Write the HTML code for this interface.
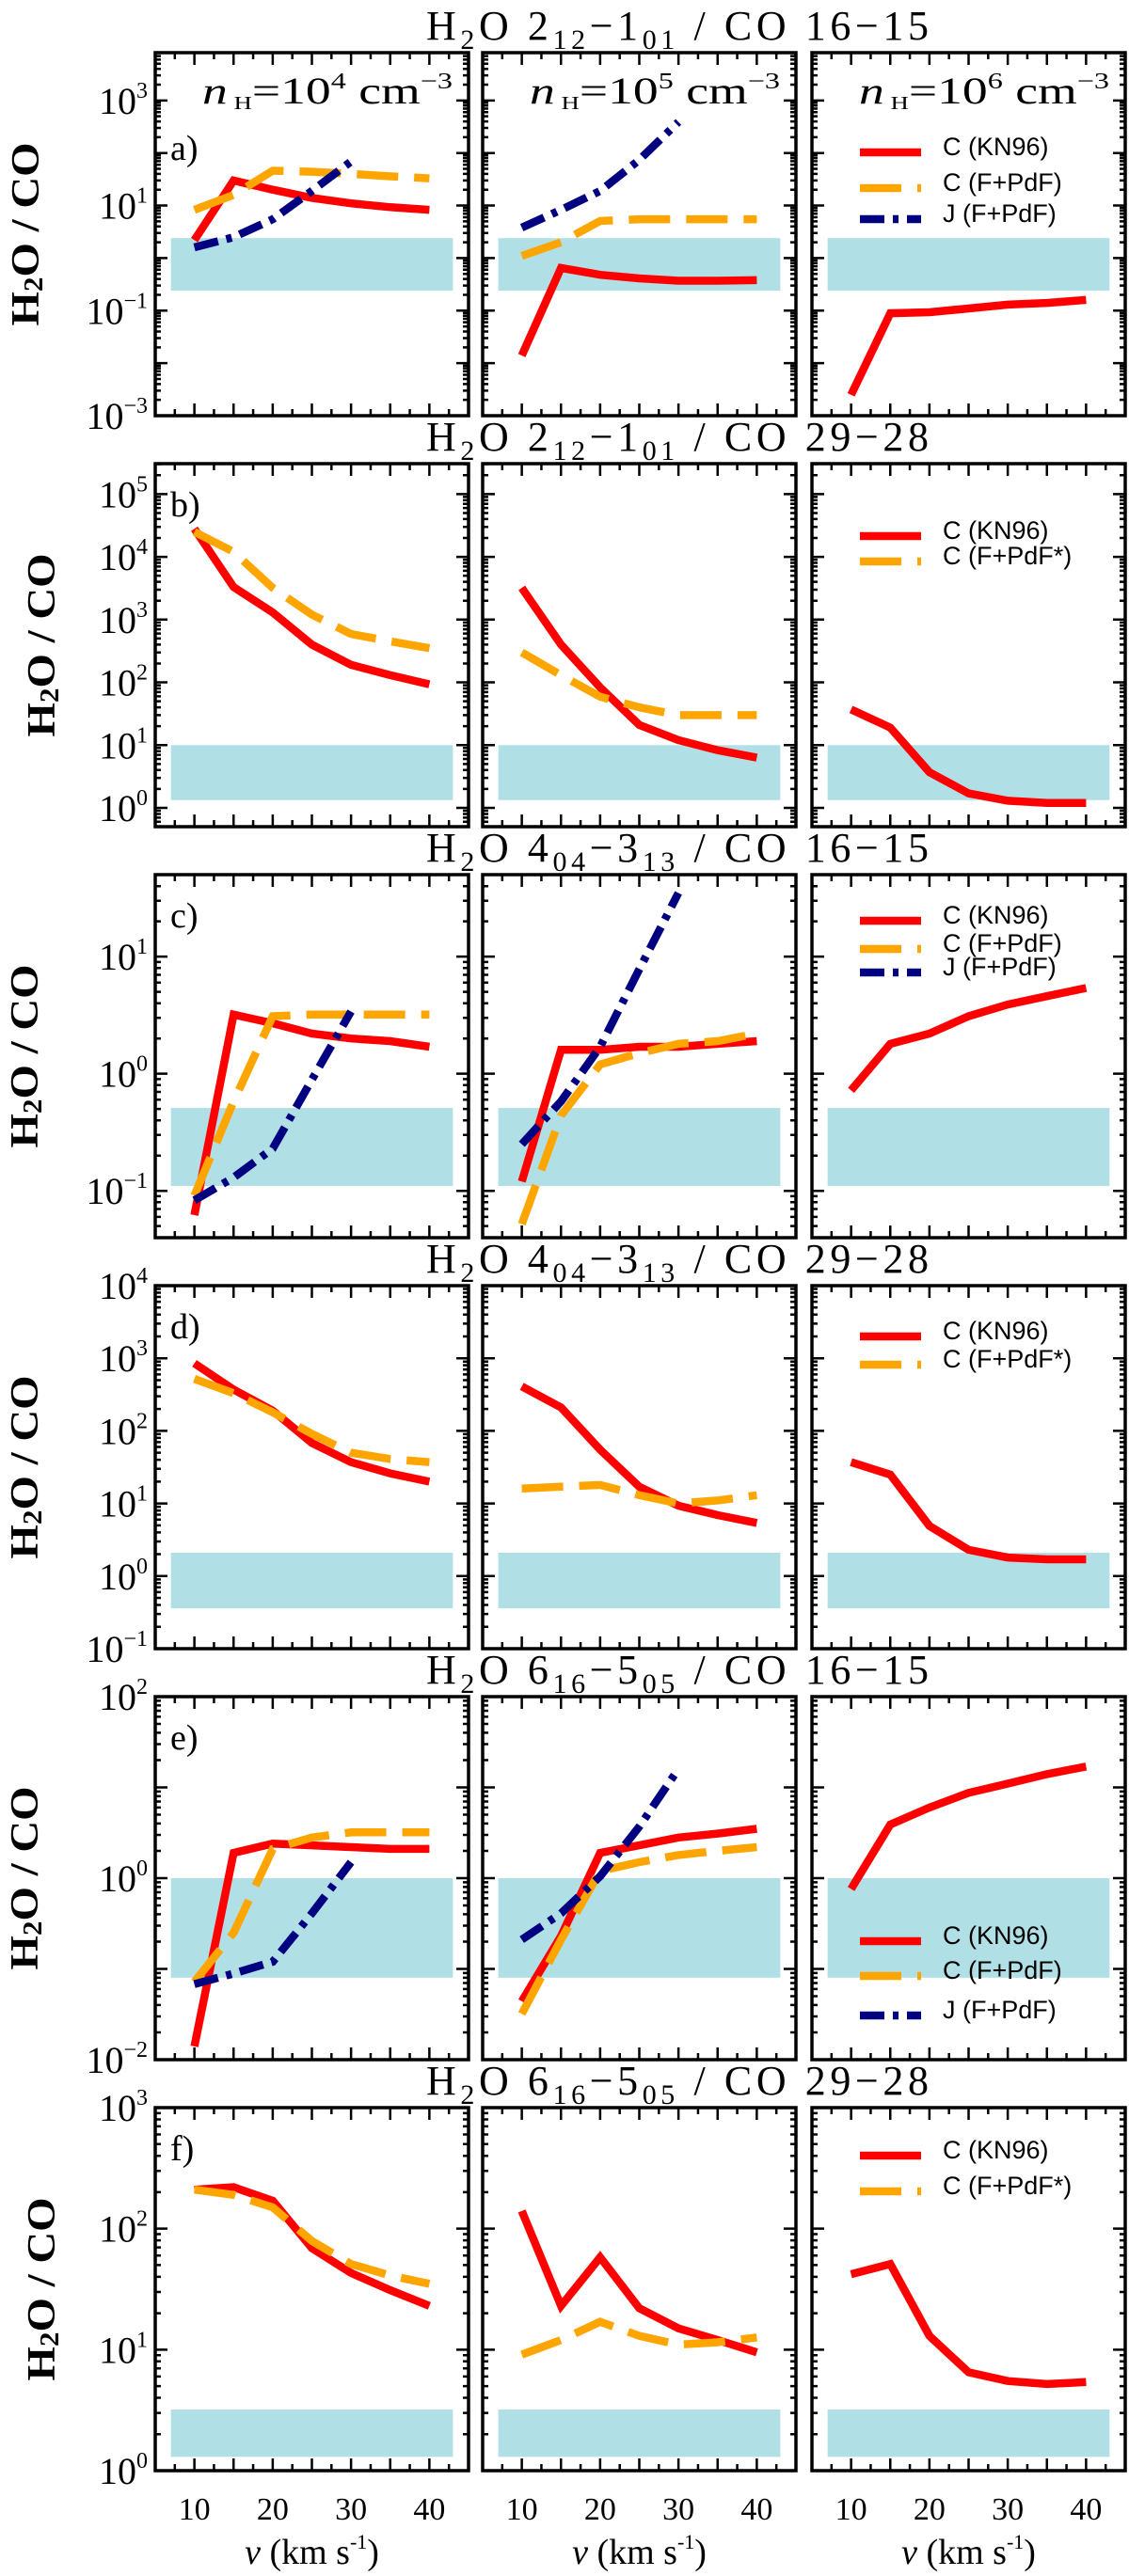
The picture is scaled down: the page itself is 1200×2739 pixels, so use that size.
<!DOCTYPE html>
<html><head><meta charset="utf-8"><style>
html,body{margin:0;padding:0;background:#fff;}
svg{display:block;}
</style></head><body>
<svg id="fig" xmlns="http://www.w3.org/2000/svg" width="1200" height="2739" viewBox="0 0 1200 2739"></svg>
<script>
// ---------- data ----------
const vel = [10, 15, 20, 25, 30, 35, 40];
const velJ = [10, 15, 20, 25, 30];
const xTickLabels = ["10", "20", "30", "40"];
const xTickValues = [10, 20, 30, 40];
const panelLetters = ["a)", "b)", "c)", "d)", "e)", "f)"];
const densityLabels = ["4", "5", "6"];
// row a : 2_12-1_01 / CO 16-15
const aRed1 = [2.2, 30, 20, 14, 11, 9.3, 8.3];
const aOrange1 = [8.3, 16, 46, 44, 40, 36, 33];
const aBlue1 = [1.6, 2.5, 5.5, 19, 69];
const aRed2 = [0.014, 0.65, 0.48, 0.41, 0.37, 0.37, 0.38];
const aOrange2 = [1.1, 2.0, 5.1, 5.5, 5.5, 5.5, 5.5];
const aBlue2 = [3.8, 8.3, 19, 74, 390];
const aRed3 = [0.0025, 0.089, 0.093, 0.11, 0.13, 0.14, 0.16];
const aBand = [0.24, 2.4];
// row b : 2_12-1_01 / CO 29-28
const bRed1 = [28000, 3300, 1300, 400, 190, 130, 93];
const bOrange1 = [25000, 12000, 3200, 1200, 590, 450, 350];
const bRed2 = [3200, 400, 83, 21, 12, 8.3, 6.3];
const bOrange2 = [300, 130, 59, 40, 30, 30, 30];
const bRed3 = [37, 19, 3.7, 1.7, 1.3, 1.2, 1.2];
const bBand = [1.33, 10];
// row c : 4_04-3_13 / CO 16-15
const cRed1 = [0.062, 3.2, 2.7, 2.2, 2.0, 1.9, 1.7];
const cOrange1 = [0.091, 0.58, 3.1, 3.2, 3.2, 3.2, 3.2];
const cBlue1 = [0.083, 0.13, 0.23, 0.89, 3.4];
const cRed2 = [0.12, 1.6, 1.6, 1.7, 1.7, 1.8, 1.9];
const cOrange2 = [0.052, 0.44, 1.2, 1.5, 1.8, 1.9, 2.2];
const cBlue2 = [0.25, 0.58, 1.7, 7.8, 35];
const cRed3 = [0.72, 1.8, 2.2, 3.1, 3.9, 4.6, 5.4];
const cBand = [0.11, 0.51];
// row d : 4_04-3_13 / CO 29-28
const dRed1 = [850, 370, 190, 68, 37, 26, 20];
const dOrange1 = [520, 330, 180, 91, 50, 41, 37];
const dRed2 = [410, 210, 55, 17, 9.3, 6.9, 5.4];
const dOrange2 = [16, 17, 18, 13, 10, 11, 13];
const dRed3 = [37, 25, 4.9, 2.3, 1.8, 1.7, 1.7];
const dBand = [0.36, 2.1];
// row e : 6_16-5_05 / CO 16-15
const eRed1 = [0.014, 1.9, 2.4, 2.3, 2.2, 2.1, 2.1];
const eOrange1 = [0.072, 0.25, 2.1, 2.8, 3.2, 3.2, 3.2];
const eBlue1 = [0.068, 0.089, 0.12, 0.41, 1.5];
const eRed2 = [0.044, 0.23, 1.9, 2.3, 2.8, 3.1, 3.5];
const eOrange2 = [0.032, 0.21, 1.2, 1.5, 1.8, 2.0, 2.2];
const eBlue2 = [0.21, 0.41, 1.05, 3.7, 16];
const eRed3 = [0.76, 3.9, 6.0, 8.7, 11, 14, 17];
const eBand = [0.08, 1.0];
// row f : 6_16-5_05 / CO 29-28
const fRed1 = [210, 220, 170, 69, 43, 31, 23];
const fOrange1 = [210, 190, 150, 79, 51, 41, 35];
const fRed2 = [140, 23, 58, 22, 15, 12, 9.5];
const fOrange2 = [9.1, 12, 17, 13, 11, 11.5, 12.6];
const fRed3 = [42, 51, 13, 6.5, 5.5, 5.2, 5.4];
const fBand = [1.3, 3.2];
// y ranges (log10) and labelled decades
const yLogMax = [3.91, 5.485, 1.70, 4, 2, 3];
const yLogMin = [-3, -0.3, -1.40, -1, -2, 0];
const yLabelled = [[3, 1, -1, -3], [5, 4, 3, 2, 1, 0], [1, 0, -1], [4, 3, 2, 1, 0, -1], [2, 0, -2], [3, 2, 1, 0]];
const transitions = [["2","12","1","01","16-15"],["2","12","1","01","29-28"],["4","04","3","13","16-15"],["4","04","3","13","29-28"],["6","16","5","05","16-15"],["6","16","5","05","29-28"]];

// ---------- layout ----------
const NS = "http://www.w3.org/2000/svg";
const svg = document.getElementById("fig");
const colLeft = [165, 513, 863];
const colW = 333;
const rowTop0 = 56, rowPitch = 437, panelH = 386;
const COL = {red: "#ff0000", orange: "#ffa500", blue: "#000080"};
const DASH = {red: "", orange: "44 17", blue: "26 9 6 9"};
const legendOffsets = [[106, 144, 177], [77, 104], [49, 79, 104], [54, 84], [260, 297, 339], [51, 89]];
const yTitleX = [28, 45, 27, 27, 27, 45];

function el(tag, attrs, parent) {
  const e = document.createElementNS(NS, tag);
  for (const k in attrs) e.setAttribute(k, attrs[k]);
  (parent || svg).appendChild(e);
  return e;
}
function rowTop(r) { return rowTop0 + r * rowPitch; }
function xS(c, v) { return colLeft[c] + (v - 5) / 40 * colW; }
function yS(r, val) { return rowTop(r) + (yLogMax[r] - Math.log10(val)) / (yLogMax[r] - yLogMin[r]) * panelH; }
function yLog(r, lg) { return rowTop(r) + (yLogMax[r] - lg) / (yLogMax[r] - yLogMin[r]) * panelH; }

const rowSeries = [
  [[["red", aRed1, vel], ["orange", aOrange1, vel], ["blue", aBlue1, velJ]], [["red", aRed2, vel], ["orange", aOrange2, vel], ["blue", aBlue2, velJ]], [["red", aRed3, vel]]],
  [[["red", bRed1, vel], ["orange", bOrange1, vel]], [["red", bRed2, vel], ["orange", bOrange2, vel]], [["red", bRed3, vel]]],
  [[["red", cRed1, vel], ["orange", cOrange1, vel], ["blue", cBlue1, velJ]], [["red", cRed2, vel], ["orange", cOrange2, vel], ["blue", cBlue2, velJ]], [["red", cRed3, vel]]],
  [[["red", dRed1, vel], ["orange", dOrange1, vel]], [["red", dRed2, vel], ["orange", dOrange2, vel]], [["red", dRed3, vel]]],
  [[["red", eRed1, vel], ["orange", eOrange1, vel], ["blue", eBlue1, velJ]], [["red", eRed2, vel], ["orange", eOrange2, vel], ["blue", eBlue2, velJ]], [["red", eRed3, vel]]],
  [[["red", fRed1, vel], ["orange", fOrange1, vel]], [["red", fRed2, vel], ["orange", fOrange2, vel]], [["red", fRed3, vel]]]
];
const bands = [aBand, bBand, cBand, dBand, eBand, fBand];

for (let r = 0; r < 6; r++) {
  const top = rowTop(r);
  const t = transitions[r];
  const title = el("text", {x: 453, y: top - 14, "font-family": "Liberation Serif, serif", "font-size": 44, textLength: 534, lengthAdjust: "spacing"});
  
  
  title.innerHTML = 'H<tspan font-size="30" dy="10">2</tspan><tspan dy="-10">O  ' + t[0] + '</tspan><tspan font-size="30" dy="10">' + t[1] + '</tspan><tspan dy="-10">\u2212' + t[2] + '</tspan><tspan font-size="30" dy="10">' + t[3] + '</tspan><tspan dy="-10">  /  CO  ' + t[4].replace('-', '\u2212') + '</tspan>';
  const cy = top + panelH / 2;
  const yt = el("text", {x: yTitleX[r], y: cy, transform: "rotate(-90 " + yTitleX[r] + " " + cy + ")", "text-anchor": "middle", "dominant-baseline": "central", "font-family": "Liberation Serif, serif", "font-weight": "bold", "font-size": 42, textLength: 195, lengthAdjust: "spacingAndGlyphs"});
  
  
  yt.innerHTML = 'H<tspan font-size="28" dy="8">2</tspan><tspan dy="-8">O / CO</tspan>';
  for (const d of yLabelled[r]) {
    const yy = yLog(r, d);
    const lb = el("text", {x: 157, y: yy + 14, "text-anchor": "end", "font-family": "Liberation Serif, serif", "font-size": 40});
    
    
    lb.innerHTML = '10<tspan font-size="24" dy="-17">' + (d < 0 ? '\u2212' + (-d) : d) + '</tspan>';
  }
  for (let c = 0; c < 3; c++) {
    const L = colLeft[c];
    const g = el("g", {});
    
    
    const b = bands[r];
    const band = el("rect", {x: xS(c, 7), y: yS(r, b[1]), width: xS(c, 43) - xS(c, 7), height: yS(r, b[0]) - yS(r, b[1]), fill: "#b0e0e6"}, g);
    
    
    const clipId = "clip" + r + c;
    const cp = el("clipPath", {id: clipId}, g);
    el("rect", {x: L, y: top, width: colW, height: panelH}, cp);
    for (const s of rowSeries[r][c]) {
      const [col, vals, xs] = s;
      const pts = vals.map((v, i) => xS(c, xs[i]).toFixed(1) + "," + yS(r, v).toFixed(1)).join(" ");
      const pl = el("polyline", {points: pts, fill: "none", stroke: COL[col], "stroke-width": 8.5, "stroke-dasharray": DASH[col], "stroke-linejoin": "miter", "clip-path": "url(#" + clipId + ")"}, g);
      
      
    }
    const fr = el("rect", {x: L, y: top, width: colW, height: panelH, fill: "none", stroke: "#000", "stroke-width": 3.5}, g);
    
    
    let d = "";
    for (let v = 7.5; v < 45; v += 2.5) {
      const x = xS(c, v);
      const len = (v % 5 === 0) ? 13 : 7;
      d += "M" + x + "," + (top + panelH) + "v" + (-len) + "M" + x + "," + top + "v" + len;
    }
    for (let dec = Math.floor(yLogMin[r]); dec <= Math.ceil(yLogMax[r]); dec++) {
      for (let k = 1; k <= 9; k++) {
        const lg = dec + Math.log10(k);
        if (lg <= yLogMin[r] + 0.001 || lg >= yLogMax[r] - 0.001) continue;
        const y = yLog(r, lg);
        const len = k === 1 ? 13 : 6;
        d += "M" + L + "," + y + "h" + len + "M" + (L + colW) + "," + y + "h" + (-len);
      }
    }
    const tk = el("path", {d: d, stroke: "#000", "stroke-width": 2.5, fill: "none"}, g);
    
    
    if (r === 0) {
      const nl = el("text", {x: L + 50, y: 110, "font-family": "Liberation Serif, serif", "font-size": 40, textLength: 266, lengthAdjust: "spacingAndGlyphs"}, g);
      
      
      nl.innerHTML = '<tspan font-style="italic">n</tspan><tspan font-size="20" dy="6"> H</tspan><tspan dy="-6">=10</tspan><tspan font-size="24" dy="-16">' + densityLabels[c] + '</tspan><tspan dy="16"> cm</tspan><tspan font-size="24" dy="-16">\u22123</tspan>';
    }
    if (c === 0) {
      const pl = el("text", {x: L + 16, y: r === 0 ? top + 114 : top + 56, "font-family": "Liberation Serif, serif", "font-size": 38}, g);
      
      
      pl.textContent = panelLetters[r];
    }
    if (c === 2) {
      const names = rowSeries[r][0].map(s => s[0]);
      const star = (r % 2 === 1) ? "*" : "";
      const labels = {red: "C (KN96)", orange: "C (F+PdF" + star + ")", blue: "J (F+PdF)"};
      names.forEach((n, i) => {
        const ly = top + legendOffsets[r][i];
        const ln = el("line", {x1: 914, x2: 979, y1: ly, y2: ly, stroke: COL[n], "stroke-width": 8.5, "stroke-dasharray": DASH[n]}, g);
        
        
        const lt = el("text", {x: 1002, y: ly + 3, "font-family": "Liberation Sans, sans-serif", "font-size": 27}, g);
        
        
        lt.textContent = labels[n];
      });
    }
    if (r === 5) {
      xTickValues.forEach((v, i) => {
        const xl = el("text", {x: xS(c, v), y: 2679, "text-anchor": "middle", "font-family": "Liberation Serif, serif", "font-size": 34}, g);
        
        
        xl.textContent = xTickLabels[i];
      });
      const xt = el("text", {x: L + colW / 2, y: 2726, "text-anchor": "middle", "font-family": "Liberation Serif, serif", "font-size": 38}, g);
      
      
      xt.innerHTML = '<tspan font-style="italic">v</tspan> (km s<tspan font-size="22" dy="-16">-1</tspan><tspan dy="16">)</tspan>';
    }
  }
}
</script>
</body></html>
